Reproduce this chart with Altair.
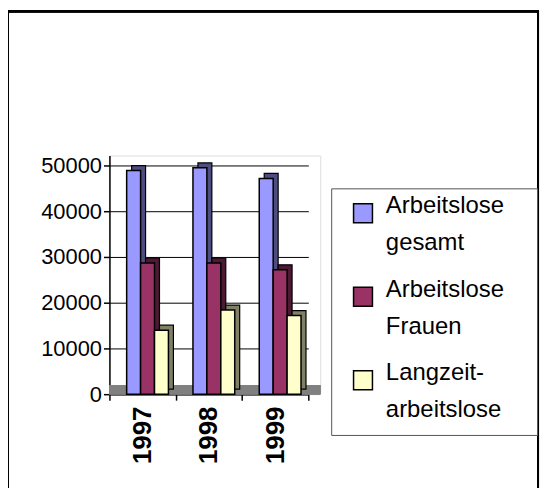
import altair as alt
import pandas as pd

years = ["1997", "1998", "1999"]
series = ["Arbeitslose gesamt", "Arbeitslose Frauen", "Langzeit- arbeitslose"]
gesamt = [48900, 49500, 47200]
frauen = [28700, 28700, 27200]
langzeit = [14000, 18400, 17200]
front_colors = ["#9999FF", "#993366", "#FFFFCC"]
side_colors = ["#4D4D80", "#4D1A33", "#808066"]
y_ticks = [0, 10000, 20000, 30000, 40000, 50000]

rows = []
for i, y in enumerate(years):
    for s, vals, dark in zip(series, [gesamt, frauen, langzeit], side_colors):
        rows.append({"Jahr": y, "Reihe": s, "Wert": vals[i], "dunkel": dark})
df = pd.DataFrame(rows)

FONT = "Liberation Sans"

x_enc = alt.X("Jahr:N", sort=years,
              scale=alt.Scale(range=[0, 200], paddingInner=0, paddingOuter=0),
              axis=alt.Axis(title=None, labelAngle=270, labelFontSize=26, labelFontWeight="bold",
                            labelColor="black", domainColor="black", domainWidth=1.5,
                            tickColor="black", tickSize=6, tickBand="extent", tickWidth=1.5,
                            labelPadding=6, grid=False))
y_enc = alt.Y("Wert:Q", scale=alt.Scale(domain=[0, 52200], nice=False),
              axis=alt.Axis(title=None, values=y_ticks, format="d", labelFontSize=22,
                            labelColor="black", domainColor="black", domainWidth=1.5,
                            tickColor="black", tickSize=6, tickWidth=1.5,
                            gridColor="black", gridWidth=1, labelPadding=2))

color_enc = alt.Color("Reihe:N", sort=series,
                      scale=alt.Scale(domain=series, range=front_colors),
                      legend=alt.Legend(
                          title="\u00a0", titleOrient="right", titlePadding=20,
                          titleFontSize=1,
                          orient="none", legendX=223, legendY=33,
                          labelExpr="split(datum.label, ' ')",
                          labelFontSize=24, labelColor="black", labelFont=FONT,
                          labelLimit=300, labelOffset=11, labelBaseline="alphabetic",
                          symbolType="square", symbolSize=361, symbolStrokeColor="black",
                          symbolStrokeWidth=1.5, symbolOpacity=1, symbolOffset=7,
                          rowPadding=23, padding=13,
                          strokeColor="#555555", fillColor="white",
                      ))

base = alt.Chart(df)
BAR_W = 14
layers = []
for k, s in enumerate(series):
    off = -9 + BAR_W * k
    sub = base.transform_filter(alt.datum.Reihe == s)
    side = sub.mark_bar(width=BAR_W, xOffset=off + 5, yOffset=-5,
                        stroke="black", strokeWidth=1.2).encode(
        x=x_enc, y=y_enc, color=alt.Color("dunkel:N", scale=None))
    front = sub.mark_bar(width=BAR_W, xOffset=off, stroke="black", strokeWidth=1.5).encode(
        x=x_enc, y=y_enc, color=color_enc)
    layers.append(side)
    layers.append(front)

# decorative frame and floor of the 3D plot area
frame = base.mark_rect(fill=None, stroke="black", strokeWidth=2).encode(
    x=alt.value(-102), x2=alt.value(431), y=alt.value(-145), y2=alt.value(400)
)
floor = base.mark_rect(fill="#808080", stroke=None).encode(
    x=alt.value(0), x2=alt.value(212), y=alt.value(231), y2=alt.value(240)
)

chart = alt.layer(frame, floor, *layers).properties(
    width=212, height=240,
    autosize=alt.AutoSizeParams(type="none"),
    padding={"left": 102, "top": 147, "right": 222, "bottom": 93},
).configure_view(
    fill="#C0C0C0", stroke="#808080", strokeWidth=1.5
).configure(font=FONT, background="white",
            style={"guide-label": {"lineHeight": 37}})

chart.save("out.html", embed_options={"renderer": "svg", "actions": False})
